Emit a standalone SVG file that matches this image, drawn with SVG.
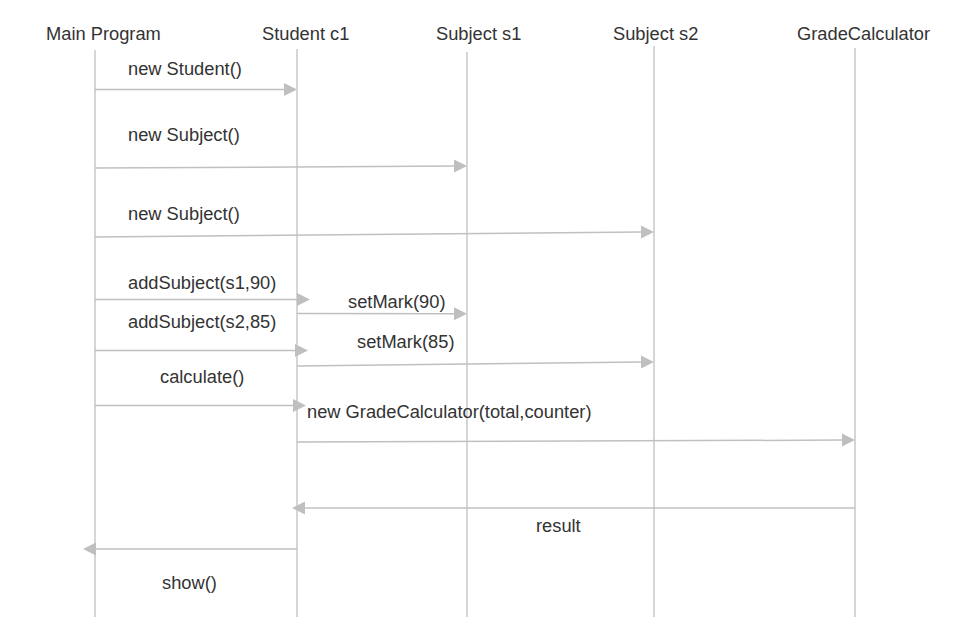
<svg xmlns="http://www.w3.org/2000/svg" width="961" height="617" viewBox="0 0 961 617">
<style>
text{font-family:"Liberation Sans",Arial,sans-serif;font-size:18.3px;fill:#333}
.life{stroke:#c8c8c8;stroke-width:1.5;fill:none}
.msg{stroke:#c0c0c0;stroke-width:1.5;fill:none;marker-end:url(#ah)}
</style>
<defs>
<marker id="ah" markerUnits="userSpaceOnUse" markerWidth="14" markerHeight="14" refX="0" refY="6.5" orient="auto" overflow="visible">
<path d="M0,0 L13,6.5 L0,13 Z" fill="#bfbfbf"/>
</marker>
</defs>
<rect width="961" height="617" fill="#fff"/>
<g id="main">
<text x="46" y="40">Main Program</text>
<line class="life" x1="95" y1="50" x2="95" y2="617"/>
</g>
<g id="student">
<text x="262" y="40">Student c1</text>
<line class="life" x1="297" y1="49" x2="297" y2="617"/>
</g>
<g id="subject1">
<text x="436" y="40">Subject s1</text>
<line class="life" x1="467" y1="52" x2="467" y2="617"/>
</g>
<g id="subject2">
<text x="613" y="40">Subject s2</text>
<line class="life" x1="654" y1="46" x2="654" y2="617"/>
</g>
<g id="gradecalc">
<text x="797" y="40">GradeCalculator</text>
<line class="life" x1="855" y1="48" x2="855" y2="617"/>
</g>
<g id="connectors">
<line class="msg" x1="95" y1="89.5" x2="284" y2="89.5"/>
<line class="msg" x1="95" y1="168" x2="454" y2="166.1"/>
<line class="msg" x1="95" y1="237" x2="641" y2="232.1"/>
<line class="msg" x1="95" y1="299.5" x2="297" y2="299.5"/>
<line class="msg" x1="297" y1="313.5" x2="454" y2="313.8"/>
<line class="msg" x1="95" y1="350.5" x2="295" y2="350.5"/>
<line class="msg" x1="297" y1="366" x2="641" y2="362.1"/>
<line class="msg" x1="95" y1="405.5" x2="293" y2="405.5"/>
<line class="msg" x1="297" y1="442" x2="842" y2="440.1"/>
<line class="msg" x1="855" y1="508" x2="305" y2="508"/>
<line class="msg" x1="297" y1="549" x2="96" y2="549"/>
</g>
<g id="labels">
<text x="128" y="75">new Student()</text>
<text x="128" y="141">new Subject()</text>
<text x="128" y="220">new Subject()</text>
<text x="128" y="289">addSubject(s1,90)</text>
<text x="348" y="308">setMark(90)</text>
<text x="128" y="328">addSubject(s2,85)</text>
<text x="357" y="348">setMark(85)</text>
<text x="160" y="383">calculate()</text>
<text x="307" y="418">new GradeCalculator(total,counter)</text>
<text x="536" y="532">result</text>
<text x="162" y="589">show()</text>
</g>
</svg>
